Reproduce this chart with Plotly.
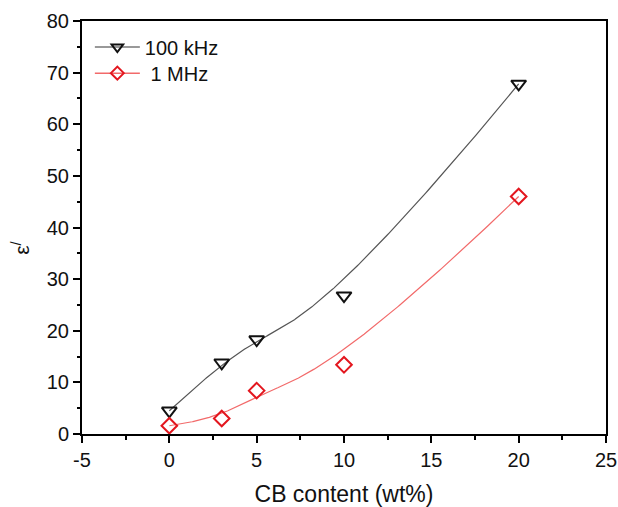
import numpy as np
import plotly.graph_objects as go

cb_content = [0, 3, 5, 10, 20]
eps_100khz = [4.5, 13.8, 18.3, 26.8, 67.8]
eps_1mhz = [1.6, 3.0, 8.4, 13.4, 46.0]

x_ticks = [-5, 0, 5, 10, 15, 20, 25]
x_tick_text = ["-5", "0", "5", "10", "15", "20", "25"]
y_ticks = [0, 10, 20, 30, 40, 50, 60, 70, 80]

BLACK = "#111111"
RED = "#e3161e"
BLACK_LINE = "#555555"
RED_LINE = "#f26a6a"
FONT = "Liberation Sans, Arial"


def bspline_curve(xs, ys, degree=3, n=300):
    """Clamped uniform B-spline using the measured points as control points
    (the smoothing connector used in the original plot)."""
    P = np.column_stack([xs, ys]).astype(float)
    m = len(P)
    k = degree
    inner = np.linspace(0, 1, m - k + 1)
    knots = np.concatenate([[0] * k, inner, [1] * k])
    t = np.linspace(0, 1, n)

    def basis(i, p, tt):
        if p == 0:
            out = ((knots[i] <= tt) & (tt < knots[i + 1])).astype(float)
            if knots[i + 1] == 1.0 and knots[i] < 1.0:
                out[tt == 1.0] = 1.0
            return out
        left = 0.0
        if knots[i + p] != knots[i]:
            left = (tt - knots[i]) / (knots[i + p] - knots[i]) * basis(i, p - 1, tt)
        right = 0.0
        if knots[i + p + 1] != knots[i + 1]:
            right = (knots[i + p + 1] - tt) / (knots[i + p + 1] - knots[i + 1]) * basis(i + 1, p - 1, tt)
        return left + right

    B = np.array([basis(i, k, t) for i in range(m)])
    C = B.T @ P
    return C[:, 0], C[:, 1]


bx_k, by_k = bspline_curve(cb_content, eps_100khz)
bx_m, by_m = bspline_curve(cb_content, eps_1mhz)

fig = go.Figure()
fig.add_trace(go.Scatter(x=bx_k, y=by_k, mode="lines", line=dict(color=BLACK_LINE, width=1.2),
                         showlegend=False, hoverinfo="skip"))
fig.add_trace(go.Scatter(x=bx_m, y=by_m, mode="lines", line=dict(color=RED_LINE, width=1.2),
                         showlegend=False, hoverinfo="skip"))
fig.add_trace(go.Scatter(x=cb_content, y=eps_100khz, mode="markers", showlegend=False,
                         marker=dict(symbol="triangle-down-open", size=13, color=BLACK,
                                     line=dict(width=2, color=BLACK))))
fig.add_trace(go.Scatter(x=cb_content, y=eps_1mhz, mode="markers", showlegend=False,
                         marker=dict(symbol="diamond-open", size=12, color=RED,
                                     line=dict(width=2, color=RED))))
# legend entries (two legends so the row spacing matches)
fig.add_trace(go.Scatter(x=[None], y=[None], mode="lines+markers", name="100 kHz", legend="legend",
                         line=dict(color="#777777", width=1.5),
                         marker=dict(symbol="triangle-down-open", size=10, color=BLACK,
                                     line=dict(width=2, color=BLACK))))
fig.add_trace(go.Scatter(x=[None], y=[None], mode="lines+markers", name=" 1 MHz", legend="legend2",
                         line=dict(color=RED_LINE, width=1.5),
                         marker=dict(symbol="diamond-open", size=10, color=RED,
                                     line=dict(width=2, color=RED))))

axis_common = dict(
    showline=True, linecolor="black", linewidth=2, mirror=True,
    ticks="outside", ticklen=7, tickwidth=1.5, tickcolor="black",
    showgrid=False, zeroline=False, automargin=False,
    tickfont=dict(family=FONT, size=20, color="#111111"),
)

fig.update_xaxes(range=[-5, 25], tickvals=x_ticks, ticktext=x_tick_text,
                 minor=dict(ticks="outside", ticklen=3.5, tickwidth=1.5, tickcolor="black", dtick=2.5, tick0=-5),
                 title=dict(text="CB content (wt%)", font=dict(family=FONT, size=23, color="#111111"),
                            standoff=16),
                 **axis_common)
fig.update_yaxes(range=[0, 80], tickvals=y_ticks,
                 minor=dict(ticks="outside", ticklen=3.5, tickwidth=1.5, tickcolor="black", dtick=5, tick0=0),
                 **axis_common)

fig.add_annotation(text="ε<sup>/</sup>", xref="paper", yref="paper", x=-0.117, y=0.45,
                   xanchor="center", yanchor="middle", textangle=-90, showarrow=False,
                   font=dict(family=FONT, size=21, color="#111111"))

legend_common = dict(xanchor="left", yanchor="top", bgcolor="rgba(0,0,0,0)",
                     itemwidth=45, tracegroupgap=0,
                     font=dict(family=FONT, size=20, color="#111111"))

fig.update_layout(
    width=618, height=507,
    margin=dict(l=82, r=12, t=21, b=73),
    paper_bgcolor="white", plot_bgcolor="white",
    legend=dict(x=0.015, y=0.984, **legend_common),
    legend2=dict(x=0.015, y=0.921, **legend_common),
)

fig.write_html("out.html", config={"displayModeBar": False},
               post_script="document.body.style.margin='0';document.body.style.overflow='hidden';")
